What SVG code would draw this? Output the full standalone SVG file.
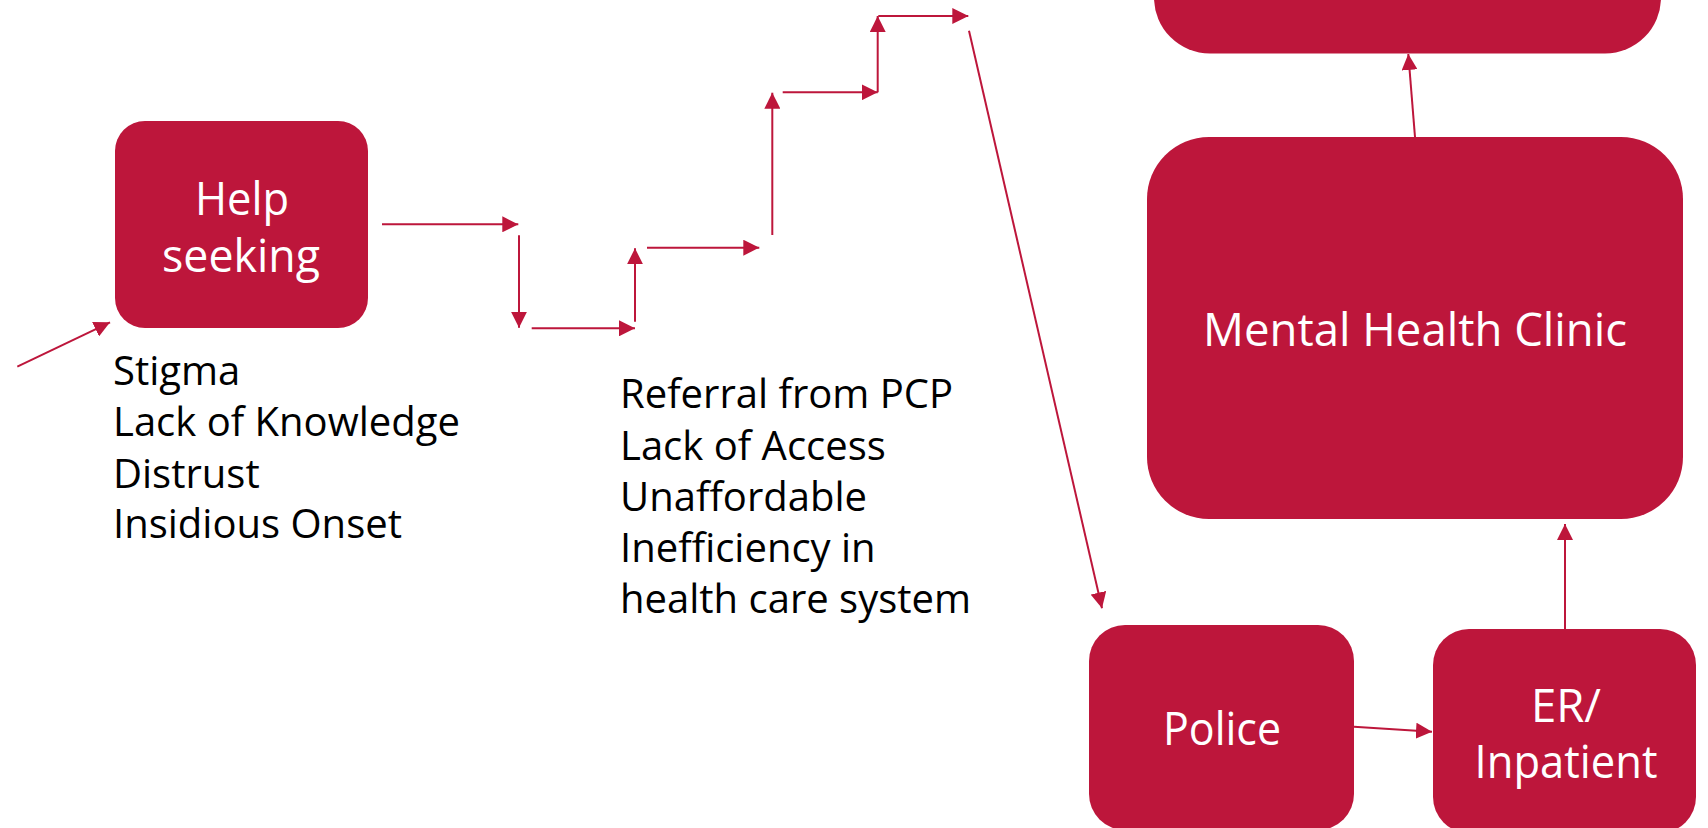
<svg xmlns="http://www.w3.org/2000/svg" width="1708" height="828" viewBox="0 0 1708 828">
<style>
.box{fill:#BD163B}
.wt{fill:#FFFFFF;font-family:"Open Sans","Noto Sans",sans-serif;font-size:45px;text-anchor:middle}
.bt{fill:#000000;font-family:"Open Sans","Noto Sans",sans-serif;font-size:40px}
.cn{stroke:#BD163B;stroke-width:2;fill:none;marker-end:url(#ah)}
</style>
<defs>
<marker id="ah" viewBox="0 0 16 16" refX="16" refY="8" markerWidth="16" markerHeight="16" markerUnits="userSpaceOnUse" orient="auto">
<path d="M0,0 L16,8 L0,16 z" fill="#BD163B"/>
</marker>
</defs>
<rect width="1708" height="828" fill="#FFFFFF"/>
<g id="node-top">
<rect class="box" x="1154" y="-150" width="507" height="203.5" rx="56" ry="56"/>
</g>
<g id="node-help">
<rect class="box" x="115" y="121" width="253" height="207" rx="30" ry="30"/>
<text class="wt" x="242" y="215" font-size="47" textLength="94" lengthAdjust="spacingAndGlyphs">Help</text>
<text class="wt" x="241" y="272" font-size="47" textLength="158" lengthAdjust="spacingAndGlyphs">seeking</text>
</g>
<g id="text-barriers1">
<text class="bt" x="113" y="385">Stigma</text>
<text class="bt" x="113" y="436">Lack of Knowledge</text>
<text class="bt" x="113" y="488">Distrust</text>
<text class="bt" x="113" y="538">Insidious Onset</text>
</g>
<g id="text-barriers2">
<text class="bt" x="620" y="408">Referral from PCP</text>
<text class="bt" x="620" y="459.5">Lack of Access</text>
<text class="bt" x="620" y="510.7">Unaffordable</text>
<text class="bt" x="620" y="561.7">Inefficiency in</text>
<text class="bt" x="620" y="612.7">health care system</text>
</g>
<g id="node-mhc">
<rect class="box" x="1147" y="137" width="536" height="382" rx="62" ry="62"/>
<text class="wt" x="1415" y="346" textLength="424" lengthAdjust="spacingAndGlyphs">Mental Health Clinic</text>
</g>
<g id="node-police">
<rect class="box" x="1089" y="625" width="265" height="205" rx="36" ry="36"/>
<text class="wt" x="1222" y="745" textLength="118" lengthAdjust="spacingAndGlyphs">Police</text>
</g>
<g id="node-er">
<rect class="box" x="1433" y="629" width="263" height="204" rx="36" ry="36"/>
<text class="wt" x="1566" y="722" textLength="70" lengthAdjust="spacingAndGlyphs">ER/</text>
<text class="wt" x="1566" y="778" textLength="183" lengthAdjust="spacingAndGlyphs">Inpatient</text>
</g>
<g id="connectors">
<line class="cn" x1="17.3" y1="366.7" x2="110" y2="322.3"/>
<line class="cn" x1="382" y1="224.3" x2="518.3" y2="224.3"/>
<line class="cn" x1="519" y1="235.3" x2="519" y2="327.7"/>
<line class="cn" x1="531.7" y1="328.3" x2="635" y2="328.3"/>
<line class="cn" x1="635" y1="321.7" x2="635" y2="248.3"/>
<line class="cn" x1="647" y1="247.7" x2="759.3" y2="247.7"/>
<line class="cn" x1="772.3" y1="235" x2="772.3" y2="92.7"/>
<line class="cn" x1="782.7" y1="92.3" x2="877.7" y2="92.3"/>
<line class="cn" x1="877.7" y1="92.3" x2="877.7" y2="16"/>
<line class="cn" x1="878.3" y1="16" x2="968.3" y2="16"/>
<line class="cn" x1="969" y1="30.7" x2="1102" y2="608.3"/>
<line class="cn" x1="1354" y1="726.7" x2="1432" y2="731.7"/>
<line class="cn" x1="1565" y1="629" x2="1565" y2="524"/>
<line class="cn" x1="1415" y1="137" x2="1408.3" y2="54"/>
</g>
</svg>
